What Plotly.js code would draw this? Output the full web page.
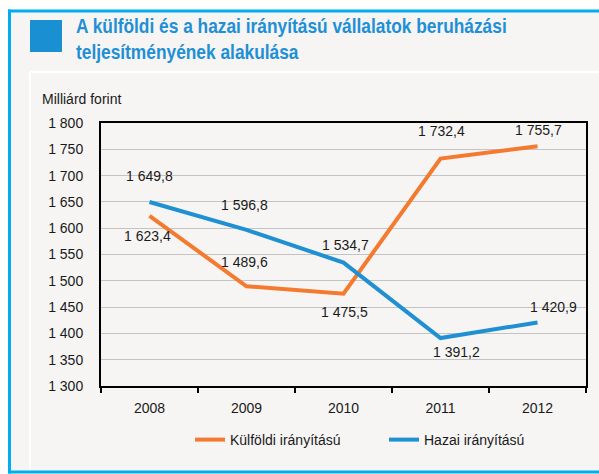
<!DOCTYPE html>
<html>
<head>
<meta charset="utf-8">
<script src="https://cdn.plot.ly/plotly-3.0.1.min.js"></script>
<style>html,body{margin:0;padding:0;background:#fff;overflow:hidden;}#chart{width:599px;height:474px;}</style>
</head>
<body>
<div id="chart"></div>
<script>
// ---- data ----
const years = ['2008', '2009', '2010', '2011', '2012'];
const kulfoldi = [1623.4, 1489.6, 1475.5, 1732.4, 1755.7];
const hazai = [1649.8, 1596.8, 1534.7, 1391.2, 1420.9];
const seriesNames = ['Külföldi irányítású', 'Hazai irányítású'];
const titleLines = ['A külföldi és a hazai irányítású vállalatok beruházási', 'teljesítményének alakulása'];
const yAxisLabel = 'Milliárd forint';

// ---- label placement (style, px offsets: [dx, dy downwards]) ----
const kulfoldiLabelShift = [[-2, 20], [-2, -24], [1, 18], [1, -28], [1, -16]];
const hazaiLabelShift = [[0, -26], [-2, -25], [2, -18], [16, 14], [16, -15]];

// ---- geometry helpers ----
const W = 599, H = 474;
const L = 101, R = 586, T = 123, B = 386;
const px = v => (v - L) / (R - L);
const py = v => (B - v) / (B - T);

function fmt(v) {
  const s = v.toFixed(1).split('.');
  const whole = s[0].replace(/\B(?=(\d{3})+(?!\d))/g, ' ');
  return whole + ',' + s[1];
}

const orange = '#f47a2f';
const blue = '#1f90d2';
const baseFont = 'Liberation Sans, Arial, sans-serif';
const textColor = '#1a1a1a';

const traces = [
  {x: years, y: kulfoldi, name: seriesNames[0], type: 'scatter', mode: 'lines',
   line: {color: orange, width: 4}},
  {x: years, y: hazai, name: seriesNames[1], type: 'scatter', mode: 'lines',
   line: {color: blue, width: 4}}
];

const annotations = [];
kulfoldi.forEach((v, i) => annotations.push({x: i, y: v, xref: 'x', yref: 'y', text: fmt(v),
  showarrow: false, xshift: kulfoldiLabelShift[i][0], yshift: -kulfoldiLabelShift[i][1],
  font: {family: baseFont, size: 14, color: textColor}}));
hazai.forEach((v, i) => annotations.push({x: i, y: v, xref: 'x', yref: 'y', text: fmt(v),
  showarrow: false, xshift: hazaiLabelShift[i][0], yshift: -hazaiLabelShift[i][1],
  font: {family: baseFont, size: 14, color: textColor}}));

const titleIndex = annotations.length;
annotations.push({xref: 'paper', yref: 'paper', x: px(74), y: py(39), xanchor: 'left', yanchor: 'middle',
  align: 'left', showarrow: false, text: '<b>' + titleLines.join('<br>') + '</b>',
  font: {family: 'Liberation Sans, Arial, sans-serif', size: 20, color: '#1f8fd6'}});
annotations.push({xref: 'paper', yref: 'paper', x: px(40), y: py(99), xanchor: 'left', yanchor: 'middle',
  showarrow: false, text: yAxisLabel, font: {family: baseFont, size: 14, color: textColor}});

const shapes = [
  {type: 'rect', xref: 'paper', yref: 'paper', x0: px(9.5), x1: px(599), y0: py(11), y1: py(472),
   fillcolor: '#f6f5f4', line: {width: 0}, layer: 'below'},
  {type: 'line', xref: 'paper', yref: 'paper', x0: px(8), x1: px(599), y0: py(11), y1: py(11),
   line: {color: '#00aeef', width: 3}, layer: 'below'},
  {type: 'line', xref: 'paper', yref: 'paper', x0: px(8), x1: px(599), y0: py(472), y1: py(472),
   line: {color: '#00aeef', width: 3}, layer: 'below'},
  {type: 'line', xref: 'paper', yref: 'paper', x0: px(9.5), x1: px(9.5), y0: py(9.5), y1: py(473.5),
   line: {color: '#00aeef', width: 3}, layer: 'below'},
  {type: 'line', xref: 'paper', yref: 'paper', x0: px(30), x1: px(599), y0: py(72), y1: py(72),
   line: {color: '#ffffff', width: 2}, layer: 'below'},
  {type: 'line', xref: 'paper', yref: 'paper', x0: px(30), x1: px(30), y0: py(72), y1: py(470),
   line: {color: '#ffffff', width: 2}, layer: 'below'},
  {type: 'rect', xref: 'paper', yref: 'paper', x0: px(30), x1: px(62), y0: py(20), y1: py(52),
   fillcolor: '#1a8fd2', line: {width: 0}, layer: 'below'}
];

const layout = {
  width: W, height: H,
  margin: {l: L, r: W - R, t: T, b: H - B, pad: 0},
  paper_bgcolor: '#ffffff',
  plot_bgcolor: 'rgba(0,0,0,0)',
  separators: ', ',
  showlegend: true,
  legend: {orientation: 'h', x: px(190), xanchor: 'left', y: py(424), yanchor: 'top',
    font: {family: baseFont, size: 14, color: textColor}, bgcolor: 'rgba(0,0,0,0)',
    entrywidth: 149, entrywidthmode: 'pixels'},
  xaxis: {type: 'category', range: [-0.5, 4.5], tickson: 'boundaries', ticks: 'outside',
    ticklen: 5, tickwidth: 2, tickcolor: '#000', showline: true, linecolor: '#000', linewidth: 2,
    mirror: true, showgrid: false, ticklabelstandoff: 8,
    tickfont: {family: baseFont, size: 14, color: textColor}},
  yaxis: {range: [1300, 1800], dtick: 50, tick0: 1300, tickformat: ',.0f', ticks: '',
    showline: true, linecolor: '#000', linewidth: 2, mirror: true, showgrid: true,
    gridcolor: '#c4c4c4', gridwidth: 1, zeroline: false, ticklabelstandoff: 13,
    tickfont: {family: baseFont, size: 14, color: textColor}},
  annotations: annotations,
  shapes: shapes
};

Plotly.newPlot('chart', traces, layout, {staticPlot: true, displayModeBar: false}).then(gd => {
  // condense the title horizontally to mimic the condensed bold face
  const anns = gd.querySelectorAll('.annotation');
  const t = anns[titleIndex] && anns[titleIndex].querySelector('text.annotation-text');
  if (t) {
    const bb = t.getBBox();
    const target = 431;
    const s = Math.min(1, target / bb.width);
    const x0 = bb.x;
    t.setAttribute('transform', 'translate(' + x0 + ',0) scale(' + s + ',1) translate(' + (-x0) + ',0)');
  }
});
</script>
</body>
</html>
